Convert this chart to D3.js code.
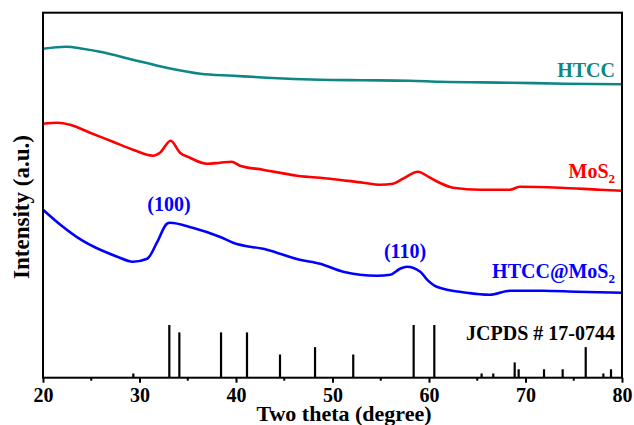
<!DOCTYPE html>
<html>
<head>
<meta charset="utf-8">
<script src="https://cdn.jsdelivr.net/npm/d3@7"></script>
<style>
  body { margin: 0; background: #fff; }
  text { font-family: "Liberation Serif", "Times New Roman", serif; font-weight: bold; }
</style>
</head>
<body>
<svg id="chart" width="634" height="425"></svg>
<script>
// XRD patterns (2theta in degrees, intensity in a.u.)
var htcc = [[20,329],[22.4,331],[24.1,329],[25.9,326],[29.3,318],[32.8,310],[36.3,304],[39.7,302],
  [43.2,300],[48.7,298],[53,297.5],[58,297],[61.1,296],[68.4,295],[74,294],[80,293.4]];

var mos2 = [[20,254],[21.5,255],[22.8,253],[24.87,245],[27.25,236],[29.33,228],[31.4,222],[32.12,225],
  [33.23,237],[34.2,225],[35.23,220],[36.96,214],[38.34,215],[39.55,216],[40.41,212],[42.8,208],
  [46.32,202],[49.74,199],[53.16,195],[54.92,193],[56.27,194],[57.31,199],[58.86,206],[60.1,200],
  [61.1,195],[62.5,190],[65.3,188],[68.4,188],[69.4,191],[73.6,190],[77.7,188],[80,187]];

var htccMos2 = [[20,168],[21.8,153],[24.1,137],[27.7,121],[29.3,116],[30.8,119],[31.8,135],
  [32.85,154],[33.16,155],[35.5,150],[38.3,141],[39.7,135],[43.2,128],[46.6,118],
  [48.7,114],[51.1,106],[54.6,102],[56,103],[57,109],[57.7,111],[59.1,106],[59.8,98],
  [60.8,91],[63.9,85],[66.3,83],[68.4,87],[71.8,87],[75.3,86],[80,85]];

// JCPDS # 17-0744 reference lines: [2theta, relative intensity %]
var refLines = [[29.36,8],[33.09,100],[34.13,86],[38.45,86],[41.14,86],[44.56,44],[48.19,58],
  [52.15,44],[58.41,100],[60.55,100],[65.45,8],[66.66,8],[68.88,29],[69.29,16],[71.92,16],
  [73.85,16],[76.24,58],[78.07,8],[78.86,16]];

var xTicks = [20, 30, 40, 50, 60, 70, 80];
var xMinor = [25, 35, 45, 55, 65, 75];

var svg = d3.select("#chart");
var margin = {top: 12.7, right: 12, bottom: 47.3, left: 43};
var W = 634, H = 425;

var x = d3.scaleLinear().domain([20, 80]).range([margin.left, W - margin.right]);
var y = d3.scaleLinear().domain([0, 365]).range([H - margin.bottom, margin.top]);
// stick heights share the baseline of the plot
var yRef = d3.scaleLinear().domain([0, 100]).range([H - margin.bottom, H - margin.bottom - 52.7]);

var line = d3.line().x(function(d){ return x(d[0]); }).y(function(d){ return y(d[1]); })
  .curve(d3.curveMonotoneX);

svg.append("path").datum(htcc).attr("d", line)
  .attr("fill", "none").attr("stroke", "#0f8585").attr("stroke-width", 2.6);
svg.append("path").datum(mos2).attr("d", line)
  .attr("fill", "none").attr("stroke", "#ff0000").attr("stroke-width", 2.6);
svg.append("path").datum(htccMos2).attr("d", line)
  .attr("fill", "none").attr("stroke", "#0000ff").attr("stroke-width", 2.6);

svg.selectAll("line.ref").data(refLines).enter().append("line")
  .attr("class", "ref")
  .attr("x1", function(d){ return x(d[0]); }).attr("x2", function(d){ return x(d[0]); })
  .attr("y1", yRef(0)).attr("y2", function(d){ return yRef(d[1]); })
  .attr("stroke", "#000").attr("stroke-width", 2.2);

// bottom axis, ticks pointing out
var xAxis = d3.axisBottom(x).tickValues(xTicks).tickSize(5).tickSizeOuter(0).tickPadding(5);
var gx = svg.append("g").attr("transform", "translate(0," + (H - margin.bottom) + ")").call(xAxis);
gx.select(".domain").remove();
gx.selectAll(".tick line").attr("stroke-width", 2);
gx.selectAll(".tick text").attr("font-size", 20).attr("fill", "#000")
  .attr("font-family", "'Liberation Serif', serif").attr("font-weight", "bold");
gx.selectAll("line.minor").data(xMinor).enter().append("line")
  .attr("class", "minor")
  .attr("x1", function(d){ return x(d); }).attr("x2", function(d){ return x(d); })
  .attr("y1", 0).attr("y2", 3).attr("stroke", "#000").attr("stroke-width", 2);

// frame
svg.append("rect")
  .attr("x", margin.left).attr("y", margin.top)
  .attr("width", W - margin.left - margin.right).attr("height", H - margin.top - margin.bottom)
  .attr("fill", "none").attr("stroke", "#000").attr("stroke-width", 2);

// axis titles
svg.append("text").attr("x", 344).attr("y", 421).attr("text-anchor", "middle")
  .attr("font-size", 22).text("Two theta (degree)");
svg.append("text").attr("transform", "translate(29,207) rotate(-90)").attr("text-anchor", "middle")
  .attr("font-size", 23).text("Intensity (a.u.)");

// curve labels
svg.append("text").attr("x", 615).attr("y", 77).attr("text-anchor", "end")
  .attr("font-size", 20).attr("fill", "#0f8585").text("HTCC");

var lm = svg.append("text").attr("x", 615).attr("y", 178).attr("text-anchor", "end")
  .attr("font-size", 20).attr("fill", "#ff0000");
lm.append("tspan").text("MoS");
lm.append("tspan").attr("font-size", 13).attr("dy", 5).text("2");

var lh = svg.append("text").attr("x", 615).attr("y", 278).attr("text-anchor", "end")
  .attr("font-size", 20).attr("fill", "#0000ff");
lh.append("tspan").text("HTCC@MoS");
lh.append("tspan").attr("font-size", 13).attr("dy", 5).text("2");

svg.append("text").attr("x", 169).attr("y", 211).attr("text-anchor", "middle")
  .attr("font-size", 20).attr("fill", "#0000ff").text("(100)");
svg.append("text").attr("x", 405).attr("y", 258).attr("text-anchor", "middle")
  .attr("font-size", 20).attr("fill", "#0000ff").text("(110)");

svg.append("text").attr("x", 615).attr("y", 340).attr("text-anchor", "end")
  .attr("font-size", 20).attr("fill", "#000").text("JCPDS # 17-0744");
</script>
</body>
</html>
